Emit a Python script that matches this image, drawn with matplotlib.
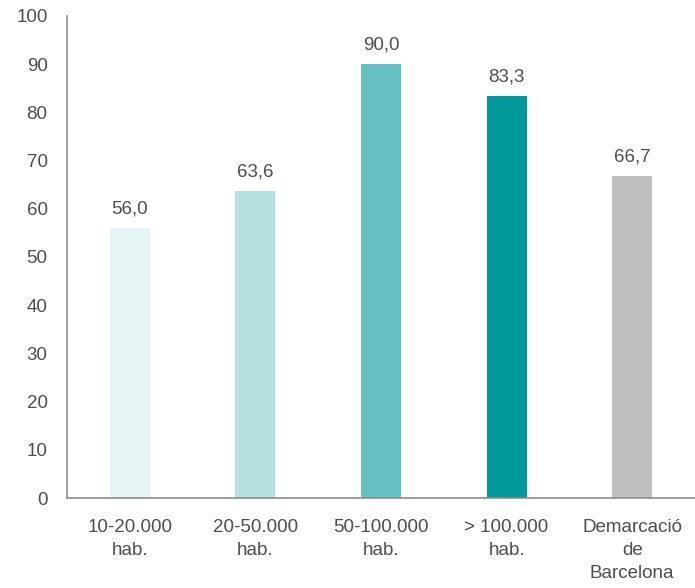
import matplotlib.pyplot as plt

plt.rcParams['font.family'] = ['Liberation Sans', 'DejaVu Sans']

# Data
categories = ['10-20.000\nhab.', '20-50.000\nhab.', '50-100.000\nhab.', '> 100.000\nhab.',
              'Demarcació\nde\nBarcelona']
values = [56.0, 63.6, 90.0, 83.3, 66.7]
colors = ['#E5F4F4', '#B3E0E0', '#66C2C2', '#009999', '#BFBFBF']
yticks = [0, 10, 20, 30, 40, 50, 60, 70, 80, 90, 100]

text_color = '#4D4D4D'

fig = plt.figure(figsize=(6.95, 5.88), dpi=100)
ax = fig.add_axes([0.0964, 0.153, 0.9036, 0.820])

x = range(len(values))
ax.bar(x, values, width=0.32, color=colors, zorder=2)

for xi, v in zip(x, values):
    ax.text(xi, v + 2.2, f'{v:.1f}'.replace('.', ','), ha='center', va='bottom',
            fontsize=13.5, color=text_color)

ax.set_xlim(-0.5, len(values) - 0.5)
ax.set_ylim(0, 100)
ax.set_yticks(yticks)
ax.set_yticklabels([str(t) for t in yticks])
ax.set_xticks(list(x))
ax.set_xticklabels(categories, linespacing=1.45)

ax.tick_params(axis='y', length=0, pad=14, labelsize=13.5, labelcolor=text_color)
ax.tick_params(axis='x', length=0, pad=15, labelsize=13.5, labelcolor=text_color)

for side in ['top', 'right']:
    ax.spines[side].set_visible(False)
for side in ['left', 'bottom']:
    ax.spines[side].set_color('#8C8C8C')
    ax.spines[side].set_linewidth(1.2)

plt.savefig('out.png', dpi=100)
